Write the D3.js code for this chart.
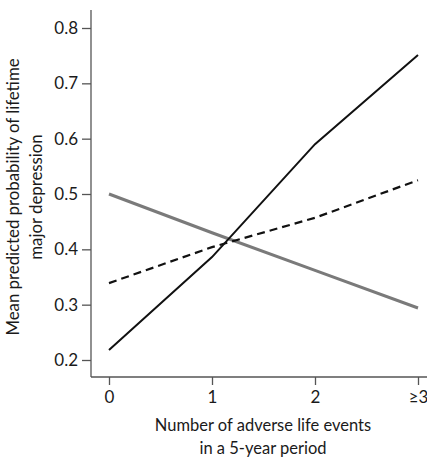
<!DOCTYPE html>
<html>
<head>
<meta charset="utf-8">
<script src="https://cdn.jsdelivr.net/npm/d3@7"></script>
<style>
  body { margin: 0; background: #fff; }
  text { font-family: Lato, "Open Sans", sans-serif; fill: #1a1a1a; }
</style>
</head>
<body>
<script>

// x categories (number of adverse events)
var events = [0, 1, 2, 3];
var eventLabels = ["0", "1", "2", "\u22653"];

// mean predicted probability, one array per line
var solidVals  = [0.218, 0.386, 0.59, 0.751];
var dashedVals = [0.339, 0.404, 0.457, 0.525];
var greyVals   = [0.5, 0.43, 0.362, 0.294];

var yTicks = [0.2, 0.3, 0.4, 0.5, 0.6, 0.7, 0.8];

var width = 427, height = 459;

var svg = d3.select("body")
  .append("svg")
  .attr("width", width)
  .attr("height", height);

var x = d3.scaleLinear().domain([0, 3]).range([109, 418]);
var y = d3.scaleLinear().domain([0.2, 0.8]).range([360, 28]);

var axisColor = "#555";

// y axis
var yAxis = svg.append("g")
  .attr("transform", "translate(91,0)")
  .call(d3.axisLeft(y).tickValues(yTicks).tickFormat(d3.format(".1f")).tickSize(9).tickPadding(4));
yAxis.select(".domain").remove();
yAxis.append("line")
  .attr("x1", 0).attr("x2", 0)
  .attr("y1", 10).attr("y2", 377)
  .attr("stroke", axisColor).attr("stroke-width", 1.3);

// x axis
var xAxis = svg.append("g")
  .attr("transform", "translate(0,377)")
  .call(d3.axisBottom(x).tickValues(events).tickFormat(function (d, i) { return eventLabels[i]; }).tickSize(8).tickPadding(6));
xAxis.select(".domain").remove();
xAxis.append("line")
  .attr("x1", 91).attr("x2", 427)
  .attr("y1", 0).attr("y2", 0)
  .attr("stroke", axisColor).attr("stroke-width", 1.3);

svg.selectAll(".tick line").attr("stroke", axisColor).attr("stroke-width", 1.3);
svg.selectAll("g").attr("font-size", null).attr("font-family", null);
svg.selectAll(".tick text")
  .attr("fill", "#1a1a1a")
  .style("font-size", "17px");

// lines
var line = d3.line()
  .x(function (d, i) { return x(events[i]); })
  .y(function (d) { return y(d); });

svg.append("path")
  .datum(greyVals)
  .attr("d", line)
  .attr("fill", "none")
  .attr("stroke", "#7a7a7a")
  .attr("stroke-width", 3);

svg.append("path")
  .datum(dashedVals)
  .attr("d", line)
  .attr("fill", "none")
  .attr("stroke", "#111")
  .attr("stroke-width", 2.2)
  .attr("stroke-dasharray", "8,5");

svg.append("path")
  .datum(solidVals)
  .attr("d", line)
  .attr("fill", "none")
  .attr("stroke", "#111")
  .attr("stroke-width", 2);

// axis titles
svg.append("text")
  .attr("x", 263)
  .attr("y", 431)
  .attr("text-anchor", "middle")
  .style("font-size", "16.5px")
  .text("Number of adverse life events");

svg.append("text")
  .attr("x", 263)
  .attr("y", 454)
  .attr("text-anchor", "middle")
  .style("font-size", "16.5px")
  .text("in a 5-year period");

svg.append("text")
  .attr("transform", "translate(19,197) rotate(-90)")
  .attr("text-anchor", "middle")
  .style("font-size", "16.8px")
  .text("Mean predicted probability of lifetime");

svg.append("text")
  .attr("transform", "translate(42,197) rotate(-90)")
  .attr("text-anchor", "middle")
  .style("font-size", "16.8px")
  .text("major depression");

</script>
</body>
</html>
